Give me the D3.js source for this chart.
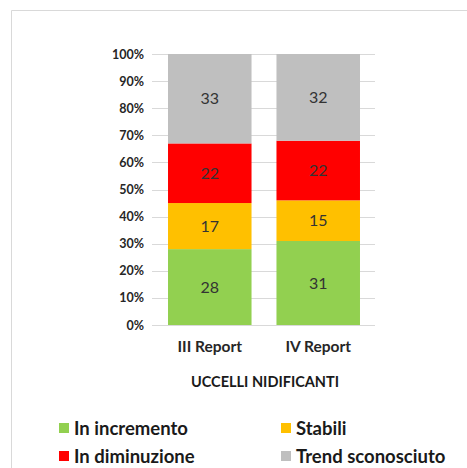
<!DOCTYPE html>
<html><head><meta charset="utf-8">
<script src="https://cdn.jsdelivr.net/npm/d3@7"></script>
<style>body{margin:0;background:#fff}svg{display:block}</style>
</head><body>
<script>
const categories = ["III Report", "IV Report"];
const seriesNames = ["In incremento", "Stabili", "In diminuzione", "Trend sconosciuto"];
const seriesColors = ["#92d050", "#ffc000", "#ff0000", "#bfbfbf"];
const inIncremento = [28, 31];
const stabili = [17, 15];
const inDiminuzione = [22, 22];
const trendSconosciuto = [33, 32];
const yTicks = [0, 0.1, 0.2, 0.3, 0.4, 0.5, 0.6, 0.7, 0.8, 0.9, 1];
const title = "UCCELLI NIDIFICANTI";

const W = 467, H = 468;
const svg = d3.select("body").append("svg").attr("width", W).attr("height", H);
const font = "Lato, 'Open Sans', sans-serif";

// frame
svg.append("path").attr("d", `M11.5,${H} V10.5 H${W}`).attr("fill", "none").attr("stroke", "#d9d9d9");

const seriesVals = [inIncremento, stabili, inDiminuzione, trendSconosciuto];
const table = categories.map((c, i) => {
  const o = {cat: c};
  const tot = d3.sum(seriesVals, s => s[i]);
  seriesNames.forEach((n, k) => { o[n] = seriesVals[k][i] / tot; o["_" + n] = seriesVals[k][i]; });
  return o;
});
const stack = d3.stack().keys(seriesNames)(table);

const y = d3.scaleLinear().domain([0, 1]).range([325, 54]);
const x = d3.scaleBand().domain(categories).range([155, 373]).paddingInner(0.23).paddingOuter(0.12);

// gridlines
svg.append("g").selectAll("line").data(yTicks).join("line")
  .attr("x1", 152).attr("x2", 375)
  .attr("y1", d => Math.round(y(d)) + 0.5).attr("y2", d => Math.round(y(d)) + 0.5)
  .attr("stroke", "#d9d9d9");

// y axis
const yAxis = d3.axisLeft(y).tickValues(yTicks).tickFormat(d3.format(".0%")).tickSize(0).tickPadding(0);
const ga = svg.append("g").attr("transform", "translate(144,0)").call(yAxis);
ga.select(".domain").remove();
ga.selectAll("text").attr("font-family", font).attr("font-weight", "bold").attr("font-size", 12.5).attr("fill", "#262626");

// bars
const groups = svg.append("g").selectAll("g").data(stack).join("g").attr("fill", (d, i) => seriesColors[i]);
groups.selectAll("rect").data(d => d.map(v => ({v, key: d.key}))).join("rect")
  .attr("x", d => x(d.v.data.cat))
  .attr("width", x.bandwidth())
  .attr("y", d => y(d.v[1]))
  .attr("height", d => y(d.v[0]) - y(d.v[1]));

// labels
svg.append("g").selectAll("g").data(stack).join("g").selectAll("text")
  .data(d => d.map(v => ({v, key: d.key}))).join("text")
  .attr("x", d => x(d.v.data.cat) + x.bandwidth() / 2)
  .attr("y", d => (y(d.v[0]) + y(d.v[1])) / 2)
  .attr("dy", "0.36em").attr("text-anchor", "middle")
  .attr("font-family", font).attr("font-size", 16).attr("fill", "#333")
  .text(d => d.v.data["_" + d.key]);

// x axis
const xAxis = d3.axisBottom(x).tickSize(0).tickPadding(0);
const gx = svg.append("g").attr("transform", "translate(0,341)").call(xAxis);
gx.select(".domain").remove();
gx.selectAll("text").attr("font-family", font).attr("font-weight", "bold").attr("font-size", 15.5).attr("fill", "#262626");

// title
svg.append("text").attr("x", 265).attr("y", 387).attr("text-anchor", "middle")
  .attr("font-family", font).attr("font-weight", "bold").attr("font-size", 14.5).attr("fill", "#1a1a1a")
  .text(title);

// legend
const legPos = [[59, 428], [281, 428], [59, 456], [281, 456]];
const legOrder = [0, 1, 2, 3];
const lg = svg.append("g").selectAll("g").data(legOrder).join("g")
  .attr("transform", (d, i) => `translate(${legPos[i][0]},${legPos[i][1]})`);
lg.append("rect").attr("x", 0).attr("y", -5).attr("width", 10).attr("height", 10).attr("fill", d => seriesColors[d]);
lg.append("text").attr("x", 15).attr("dy", "0.36em")
  .attr("font-family", font).attr("font-weight", "bold").attr("font-size", 18.5).attr("fill", "#1a1a1a")
  .text(d => seriesNames[d]);
</script>
</body></html>
